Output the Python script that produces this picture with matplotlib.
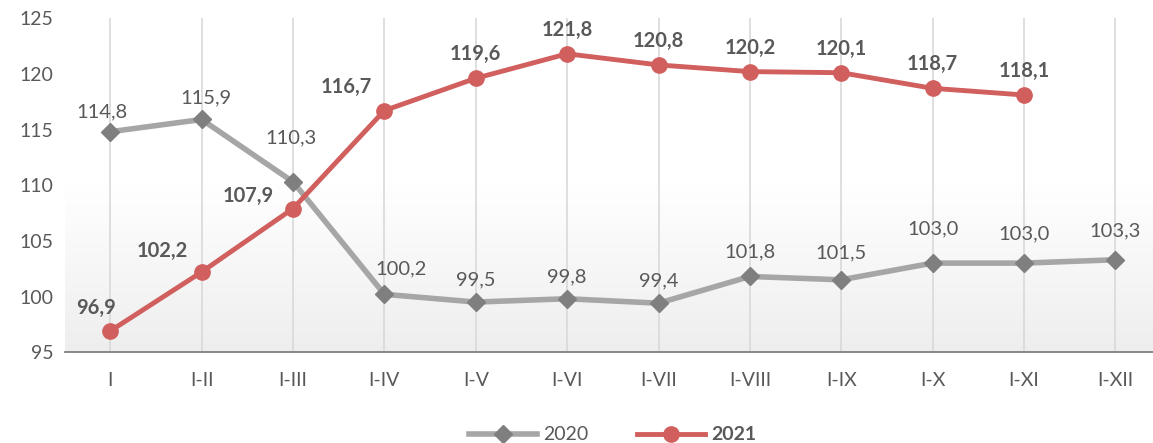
import numpy as np
import matplotlib.pyplot as plt
from matplotlib.colors import LinearSegmentedColormap

# Data
months = ['I', 'I-II', 'I-III', 'I-IV', 'I-V', 'I-VI', 'I-VII', 'I-VIII', 'I-IX', 'I-X', 'I-XI', 'I-XII']
vals_2020 = [114.8, 115.9, 110.3, 100.2, 99.5, 99.8, 99.4, 101.8, 101.5, 103.0, 103.0, 103.3]
vals_2021 = [96.9, 102.2, 107.9, 116.7, 119.6, 121.8, 120.8, 120.2, 120.1, 118.7, 118.1]

plt.rcParams['font.family'] = ['Lato', 'DejaVu Sans']

c2020_line = '#a6a6a6'
c2020_mark = '#7f7f7f'
c2021 = '#d05f5e'
txt = '#595959'

fig = plt.figure(figsize=(11.53, 4.43), dpi=100)
ax = fig.add_axes([0.056, 0.205, 0.951, 0.754])
x20 = np.arange(len(vals_2020))
x21 = np.arange(len(vals_2021))

ax.set_xlim(-0.5, 11.5)
ax.set_ylim(95, 125)

# background gradient: light grey at the bottom fading to white near the top
grad = np.linspace(0, 1, 256).reshape(-1, 1)
cmap = LinearSegmentedColormap.from_list('bg', ['#eeeeee', '#ffffff', '#ffffff'])
ax.imshow(grad, aspect='auto', cmap=cmap, extent=(-0.5, 11.5, 95, 125),
          origin='lower', zorder=0)

for xi in x20:
    ax.axvline(xi, color='#d9d9d9', lw=1.2, zorder=1)

ax.plot(x20, vals_2020, color=c2020_line, lw=4, marker='D', ms=9,
        mfc=c2020_mark, mec=c2020_mark, zorder=3, label='2020')
ax.plot(x21, vals_2021, color=c2021, lw=3.5, marker='o', ms=11,
        mfc=c2021, mec=c2021, zorder=4, label='2021')

# label offsets in pixels
off20 = [(-8, 20), (4, 22), (-2, 44), (17, 25), (0, 22), (0, 22), (0, 22),
         (0, 25), (0, 27), (0, 34), (0, 29), (0, 29)]
off21 = [(-14, 23), (-39, 21), (-45, 13), (-38, 24), (0, 24), (0, 24), (0, 24),
         (0, 24), (0, 24), (0, 24), (0, 24)]

for xi, v, o in zip(x20, vals_2020, off20):
    ax.annotate(f'{v:.1f}'.replace('.', ','), (xi, v), xytext=o, textcoords='offset pixels',
                ha='center', va='center', fontsize=14.5, color=txt, zorder=5)
for xi, v, o in zip(x21, vals_2021, off21):
    ax.annotate(f'{v:.1f}'.replace('.', ','), (xi, v), xytext=o, textcoords='offset pixels',
                ha='center', va='center', fontsize=14.5, color=txt, fontweight='bold', zorder=5)

ax.set_xticks(x20)
ax.set_xticklabels(months)
ax.set_yticks(np.arange(95, 126, 5))
ax.tick_params(axis='both', length=0, labelsize=14, labelcolor=txt)
ax.tick_params(axis='x', pad=14)
ax.tick_params(axis='y', pad=8)
for s in ['top', 'right', 'left']:
    ax.spines[s].set_visible(False)
ax.spines['bottom'].set_color('#7f7f7f')
ax.spines['bottom'].set_linewidth(1.3)

leg = ax.legend(loc='upper center', bbox_to_anchor=(0.5, -0.17), ncol=2, frameon=False,
                fontsize=14, handlelength=3.5, columnspacing=2.5, handletextpad=0.3)
for t in leg.get_texts():
    t.set_color(txt)
leg.get_texts()[1].set_fontweight('bold')

fig.savefig('out.png', dpi=100)
